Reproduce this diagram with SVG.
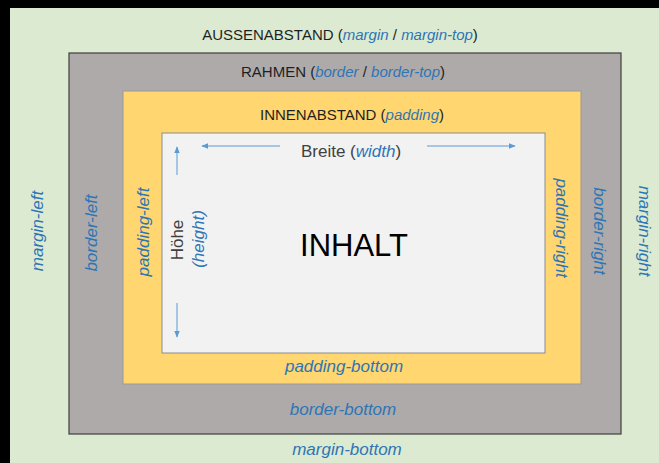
<svg xmlns="http://www.w3.org/2000/svg" width="659" height="463" viewBox="0 0 659 463">
  <style>
    .hd { font-family: "Liberation Sans", Arial, sans-serif; font-size: 15px; fill: #1f1f1f; text-anchor: middle; }
    .lbl { font-family: "Liberation Sans", Arial, sans-serif; font-size: 17px; font-style: italic; fill: #2e75b6; text-anchor: middle; }
    .it { font-style: italic; fill: #2e75b6; }
    .dark { font-family: "Liberation Sans", Arial, sans-serif; font-size: 17px; fill: #404040; text-anchor: middle; }
    .arrow { stroke: #5b9bd5; stroke-width: 1; fill: none; }
  </style>
  <defs>
    <marker id="head" viewBox="0 0 10 10" refX="9" refY="5" markerWidth="7" markerHeight="7" markerUnits="userSpaceOnUse" orient="auto">
      <path d="M0,1 L10,5 L0,9 Z" fill="#5b9bd5"/>
    </marker>
  </defs>

  <rect x="0" y="0" width="659" height="463" fill="#000"/>

  <!-- outer margin area -->
  <g id="margin">
    <rect x="10" y="8" width="649" height="455" fill="#dbead0"/>
    <text class="hd" x="340" y="40">AUSSENABSTAND (<tspan class="it">margin</tspan> / <tspan class="it">margin-top</tspan>)</text>
    <text class="lbl" transform="translate(37,231) rotate(-90)" dy="0.35em">margin-left</text>
    <text class="lbl" transform="translate(645,231) rotate(90)" dy="0.35em">margin-right</text>
    <text class="lbl" x="347" y="455">margin-bottom</text>
  </g>

  <!-- border area -->
  <g id="border">
    <rect x="69" y="53" width="552" height="381" fill="#adaaa9" stroke="#3f3f3f" stroke-width="1.2"/>
    <text class="hd" x="343" y="77">RAHMEN (<tspan class="it">border</tspan> / <tspan class="it">border-top</tspan>)</text>
    <text class="lbl" transform="translate(91,233) rotate(-90)" dy="0.35em">border-left</text>
    <text class="lbl" transform="translate(600,231) rotate(90)" dy="0.35em">border-right</text>
    <text class="lbl" x="343" y="415">border-bottom</text>
  </g>

  <!-- padding area -->
  <g id="padding">
    <rect x="123" y="91" width="458" height="293" fill="#ffd66f" stroke="#9a9a9a" stroke-width="1"/>
    <text class="hd" x="352" y="120">INNENABSTAND (<tspan class="it">padding</tspan>)</text>
    <text class="lbl" transform="translate(143,232) rotate(-90)" dy="0.35em">padding-left</text>
    <text class="lbl" transform="translate(562,228) rotate(90)" dy="0.35em">padding-right</text>
    <text class="lbl" x="344" y="372">padding-bottom</text>
  </g>

  <!-- content area -->
  <g id="content">
    <rect x="162" y="133" width="383" height="220" fill="#f2f2f2" stroke="#8c8c8c" stroke-width="1"/>
    <text class="dark" x="351" y="157">Breite (<tspan class="it">width</tspan>)</text>
    <text class="dark" transform="translate(177,240) rotate(-90)" dy="0.35em">Höhe</text>
    <text class="lbl" transform="translate(198,239) rotate(-90)" dy="0.35em">(height)</text>
    <text x="354" y="256" font-family="Liberation Sans, Arial, sans-serif" font-size="31" fill="#000" text-anchor="middle">INHALT</text>
  </g>

  <!-- dimension arrows -->
  <g id="connectors">
    <line class="arrow" x1="280" y1="146" x2="202" y2="146" marker-end="url(#head)"/>
    <line class="arrow" x1="427" y1="146" x2="515" y2="146" marker-end="url(#head)"/>
    <line class="arrow" x1="177" y1="175" x2="177" y2="147" marker-end="url(#head)"/>
    <line class="arrow" x1="177" y1="303" x2="177" y2="337" marker-end="url(#head)"/>
  </g>
</svg>
